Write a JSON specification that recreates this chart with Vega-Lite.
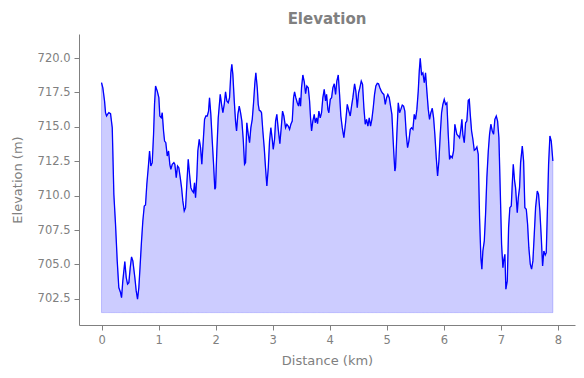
{
  "$schema": "https://vega.github.io/schema/vega-lite/v6.json",
  "width": 496,
  "height": 291,
  "autosize": "none",
  "padding": {"left": 79, "top": 34, "right": 9, "bottom": 53},
  "background": "white",
  "title": {"text": "Elevation", "fontSize": 15, "fontWeight": "bold", "color": "#808080", "font": "DejaVu Sans", "offset": 7, "anchor": "middle"},
  "config": {
    "view": {"stroke": null},
    "axis": {
      "grid": false,
      "domainColor": "#808080",
      "tickColor": "#808080",
      "labelColor": "#808080",
      "titleColor": "#808080",
      "labelFont": "DejaVu Sans",
      "titleFont": "DejaVu Sans",
      "labelFontSize": 11.5,
      "titleFontSize": 13,
      "titleFontWeight": "normal",
      "tickSize": 5,
      "labelPadding": 4
    }
  },
  "data": {"values": [
    {"d":0.000,"e":718.21},{"d":0.023,"e":717.84},{"d":0.053,"e":716.88},{"d":0.070,"e":716.03},{"d":0.088,"e":715.79},{"d":0.105,"e":715.91},{"d":0.128,"e":716.03},{"d":0.158,"e":715.96},{"d":0.188,"e":714.94},{"d":0.216,"e":710.10},
    {"d":0.245,"e":707.94},{"d":0.275,"e":705.26},{"d":0.303,"e":703.32},{"d":0.333,"e":702.96},{"d":0.351,"e":702.59},{"d":0.373,"e":703.81},{"d":0.408,"e":705.21},{"d":0.433,"e":704.05},{"d":0.456,"e":703.57},{"d":0.479,"e":703.68},
    {"d":0.503,"e":704.77},{"d":0.526,"e":705.55},{"d":0.549,"e":705.26},{"d":0.584,"e":704.05},{"d":0.608,"e":703.08},{"d":0.631,"e":702.48},{"d":0.654,"e":703.32},{"d":0.678,"e":705.02},{"d":0.701,"e":706.71},{"d":0.724,"e":708.16},
    {"d":0.749,"e":709.25},{"d":0.771,"e":709.32},{"d":0.794,"e":710.83},{"d":0.819,"e":712.03},{"d":0.842,"e":713.25},{"d":0.864,"e":712.16},{"d":0.889,"e":712.40},{"d":0.912,"e":714.46},{"d":0.929,"e":716.64},{"d":0.947,"e":717.97},
    {"d":0.977,"e":717.60},{"d":1.005,"e":717.12},{"d":1.022,"e":715.79},{"d":1.047,"e":715.66},{"d":1.064,"e":716.03},{"d":1.087,"e":714.70},{"d":1.105,"e":713.97},{"d":1.127,"e":713.85},{"d":1.152,"e":712.88},{"d":1.175,"e":713.25},
    {"d":1.197,"e":712.28},{"d":1.215,"e":711.92},{"d":1.240,"e":712.28},{"d":1.268,"e":712.40},{"d":1.285,"e":712.28},{"d":1.310,"e":711.31},{"d":1.332,"e":712.16},{"d":1.355,"e":712.03},{"d":1.380,"e":711.31},{"d":1.403,"e":710.58},
    {"d":1.425,"e":709.62},{"d":1.450,"e":708.89},{"d":1.473,"e":709.13},{"d":1.495,"e":710.83},{"d":1.520,"e":712.64},{"d":1.543,"e":711.55},{"d":1.566,"e":710.58},{"d":1.590,"e":710.34},{"d":1.613,"e":710.22},{"d":1.630,"e":710.94},
    {"d":1.648,"e":709.85},{"d":1.671,"e":711.43},{"d":1.688,"e":713.25},{"d":1.713,"e":714.10},{"d":1.736,"e":713.49},{"d":1.758,"e":712.28},{"d":1.783,"e":713.97},{"d":1.806,"e":715.55},{"d":1.829,"e":715.79},{"d":1.853,"e":715.79},
    {"d":1.876,"e":716.15},{"d":1.893,"e":717.12},{"d":1.916,"e":715.91},{"d":1.941,"e":713.97},{"d":1.964,"e":712.28},{"d":1.986,"e":710.46},{"d":1.999,"e":710.58},{"d":2.021,"e":713.25},{"d":2.046,"e":715.66},{"d":2.081,"e":717.36},
    {"d":2.104,"e":716.64},{"d":2.127,"e":716.03},{"d":2.151,"e":716.64},{"d":2.174,"e":717.55},{"d":2.197,"e":716.88},{"d":2.221,"e":716.75},{"d":2.244,"e":717.12},{"d":2.267,"e":718.93},{"d":2.284,"e":719.54},{"d":2.302,"e":718.82},
    {"d":2.327,"e":716.88},{"d":2.349,"e":715.42},{"d":2.367,"e":714.70},{"d":2.390,"e":715.91},{"d":2.414,"e":716.51},{"d":2.437,"e":716.03},{"d":2.460,"e":715.42},{"d":2.484,"e":714.10},{"d":2.507,"e":712.28},{"d":2.525,"e":712.40},
    {"d":2.547,"e":715.30},{"d":2.572,"e":714.46},{"d":2.595,"e":713.85},{"d":2.618,"e":714.94},{"d":2.642,"e":715.55},{"d":2.665,"e":716.75},{"d":2.688,"e":718.21},{"d":2.705,"e":718.93},{"d":2.730,"e":717.84},{"d":2.747,"e":716.64},
    {"d":2.765,"e":716.20},{"d":2.788,"e":716.15},{"d":2.805,"e":716.03},{"d":2.828,"e":714.70},{"d":2.852,"e":713.49},{"d":2.875,"e":712.03},{"d":2.898,"e":710.70},{"d":2.923,"e":712.03},{"d":2.945,"e":713.97},{"d":2.968,"e":714.94},
    {"d":2.993,"e":714.10},{"d":3.010,"e":713.37},{"d":3.033,"e":714.10},{"d":3.051,"e":715.42},{"d":3.073,"e":715.91},{"d":3.098,"e":714.82},{"d":3.126,"e":713.78},{"d":3.150,"e":714.94},{"d":3.173,"e":716.15},{"d":3.196,"e":715.79},
    {"d":3.226,"e":714.94},{"d":3.249,"e":715.19},{"d":3.273,"e":715.06},{"d":3.296,"e":714.82},{"d":3.319,"e":715.19},{"d":3.343,"e":715.42},{"d":3.366,"e":717.12},{"d":3.384,"e":717.55},{"d":3.406,"e":717.12},{"d":3.431,"e":716.75},
    {"d":3.454,"e":716.51},{"d":3.471,"e":717.12},{"d":3.489,"e":716.51},{"d":3.506,"e":717.84},{"d":3.529,"e":718.77},{"d":3.554,"e":718.28},{"d":3.577,"e":717.41},{"d":3.599,"e":717.97},{"d":3.624,"e":717.84},{"d":3.647,"e":716.88},
    {"d":3.664,"e":715.66},{"d":3.682,"e":714.70},{"d":3.704,"e":715.42},{"d":3.729,"e":715.91},{"d":3.747,"e":715.30},{"d":3.769,"e":715.66},{"d":3.787,"e":715.23},{"d":3.810,"e":716.15},{"d":3.834,"e":715.66},{"d":3.857,"e":716.03},
    {"d":3.880,"e":717.12},{"d":3.904,"e":717.73},{"d":3.927,"e":716.88},{"d":3.945,"e":717.36},{"d":3.968,"e":716.27},{"d":3.985,"e":716.03},{"d":4.010,"e":717.00},{"d":4.033,"e":717.12},{"d":4.055,"e":717.84},{"d":4.080,"e":718.13},
    {"d":4.103,"e":717.36},{"d":4.125,"e":718.33},{"d":4.150,"e":718.77},{"d":4.173,"e":717.36},{"d":4.195,"e":715.79},{"d":4.220,"e":714.94},{"d":4.248,"e":714.21},{"d":4.278,"e":715.30},{"d":4.308,"e":716.64},{"d":4.336,"e":716.15},
    {"d":4.360,"e":715.79},{"d":4.383,"e":716.51},{"d":4.406,"e":717.12},{"d":4.436,"e":718.13},{"d":4.458,"e":717.60},{"d":4.483,"e":716.39},{"d":4.506,"e":717.48},{"d":4.528,"e":717.84},{"d":4.553,"e":718.33},{"d":4.576,"e":718.09},
    {"d":4.599,"e":716.39},{"d":4.623,"e":715.19},{"d":4.646,"e":715.55},{"d":4.669,"e":715.06},{"d":4.693,"e":715.66},{"d":4.716,"e":715.06},{"d":4.739,"e":715.55},{"d":4.763,"e":716.39},{"d":4.786,"e":717.36},{"d":4.809,"e":717.97},
    {"d":4.834,"e":718.16},{"d":4.856,"e":718.13},{"d":4.879,"e":717.84},{"d":4.904,"e":717.60},{"d":4.927,"e":717.44},{"d":4.949,"e":717.36},{"d":4.974,"e":716.64},{"d":4.997,"e":717.12},{"d":5.019,"e":717.36},{"d":5.044,"e":717.12},
    {"d":5.067,"e":716.51},{"d":5.090,"e":715.91},{"d":5.107,"e":714.46},{"d":5.125,"e":713.01},{"d":5.142,"e":711.79},{"d":5.154,"e":712.03},{"d":5.177,"e":714.46},{"d":5.202,"e":716.75},{"d":5.225,"e":716.03},{"d":5.247,"e":716.27},
    {"d":5.272,"e":716.59},{"d":5.295,"e":716.51},{"d":5.317,"e":716.15},{"d":5.342,"e":714.46},{"d":5.365,"e":713.49},{"d":5.388,"e":713.97},{"d":5.412,"e":714.82},{"d":5.435,"e":714.94},{"d":5.458,"e":714.82},{"d":5.482,"e":715.91},
    {"d":5.505,"e":715.55},{"d":5.528,"e":716.27},{"d":5.552,"e":717.60},{"d":5.570,"e":719.06},{"d":5.587,"e":719.98},{"d":5.610,"e":718.82},{"d":5.633,"e":718.93},{"d":5.658,"e":718.21},{"d":5.680,"e":718.93},{"d":5.703,"e":717.60},
    {"d":5.728,"e":716.27},{"d":5.750,"e":715.55},{"d":5.773,"e":716.03},{"d":5.798,"e":716.35},{"d":5.821,"e":715.66},{"d":5.843,"e":714.46},{"d":5.868,"e":712.76},{"d":5.891,"e":711.43},{"d":5.914,"e":712.52},{"d":5.938,"e":714.46},
    {"d":5.961,"e":716.03},{"d":5.984,"e":716.64},{"d":6.008,"e":717.00},{"d":6.031,"e":716.64},{"d":6.054,"e":716.75},{"d":6.078,"e":714.46},{"d":6.101,"e":712.64},{"d":6.124,"e":712.88},{"d":6.148,"e":712.76},{"d":6.171,"e":713.25},
    {"d":6.194,"e":715.19},{"d":6.229,"e":714.46},{"d":6.254,"e":714.34},{"d":6.276,"e":714.21},{"d":6.299,"e":714.82},{"d":6.317,"e":715.55},{"d":6.334,"e":714.46},{"d":6.359,"e":713.85},{"d":6.382,"e":715.30},{"d":6.404,"e":715.42},
    {"d":6.429,"e":716.93},{"d":6.447,"e":717.00},{"d":6.464,"e":715.91},{"d":6.487,"e":714.70},{"d":6.510,"e":714.10},{"d":6.534,"e":713.30},{"d":6.557,"e":713.37},{"d":6.580,"e":713.54},{"d":6.604,"e":713.01},{"d":6.627,"e":708.40},
    {"d":6.650,"e":705.50},{"d":6.667,"e":704.66},{"d":6.685,"e":705.98},{"d":6.710,"e":706.71},{"d":6.732,"e":708.65},{"d":6.755,"e":711.31},{"d":6.780,"e":713.25},{"d":6.802,"e":714.46},{"d":6.825,"e":715.19},{"d":6.850,"e":714.70},
    {"d":6.873,"e":714.46},{"d":6.895,"e":715.55},{"d":6.920,"e":715.79},{"d":6.943,"e":715.42},{"d":6.966,"e":714.21},{"d":6.990,"e":710.34},{"d":7.013,"e":706.47},{"d":7.036,"e":704.77},{"d":7.053,"e":705.38},{"d":7.071,"e":705.74},
    {"d":7.088,"e":703.20},{"d":7.113,"e":703.81},{"d":7.136,"e":707.68},{"d":7.158,"e":709.13},{"d":7.183,"e":709.25},{"d":7.200,"e":710.83},{"d":7.218,"e":712.28},{"d":7.241,"e":711.07},{"d":7.258,"e":710.58},{"d":7.288,"e":708.77},
    {"d":7.306,"e":709.85},{"d":7.328,"e":710.58},{"d":7.346,"e":712.40},{"d":7.376,"e":713.61},{"d":7.399,"e":712.52},{"d":7.421,"e":709.13},{"d":7.446,"e":709.01},{"d":7.469,"e":707.92},{"d":7.491,"e":706.22},{"d":7.516,"e":705.02},
    {"d":7.539,"e":704.66},{"d":7.562,"e":705.26},{"d":7.586,"e":707.20},{"d":7.609,"e":709.13},{"d":7.639,"e":710.34},{"d":7.661,"e":710.10},{"d":7.684,"e":708.89},{"d":7.709,"e":706.95},{"d":7.732,"e":704.89},{"d":7.754,"e":705.98},
    {"d":7.779,"e":705.69},{"d":7.796,"e":705.86},{"d":7.819,"e":709.38},{"d":7.837,"e":712.28},{"d":7.860,"e":714.34},{"d":7.884,"e":713.97},{"d":7.912,"e":712.52}
  ]},
  "encoding": {
    "x": {"field": "d", "type": "quantitative", "scale": {"domain": [-0.395, 8.3], "nice": false, "zero": false},
          "axis": {"title": "Distance (km)", "values": [0,1,2,3,4,5,6,7,8], "format": "d", "titlePadding": 9}}
  },
  "layer": [
    {
      "mark": {"type": "area", "color": "#0000ff", "fillOpacity": 0.2, "stroke": "#0000ff", "strokeOpacity": 0.2, "strokeWidth": 1},
      "encoding": {
        "y": {"field": "e", "type": "quantitative", "scale": {"domain": [700.6, 721.75], "nice": false, "zero": false},
              "axis": {"title": "Elevation (m)", "values": [702.5,705,707.5,710,712.5,715,717.5,720], "format": ".1f", "titlePadding": 13}},
        "y2": {"datum": 701.5}
      }
    },
    {
      "mark": {"type": "line", "color": "#0000ff", "strokeWidth": 1.3},
      "encoding": {
        "y": {"field": "e", "type": "quantitative"}
      }
    }
  ]
}
